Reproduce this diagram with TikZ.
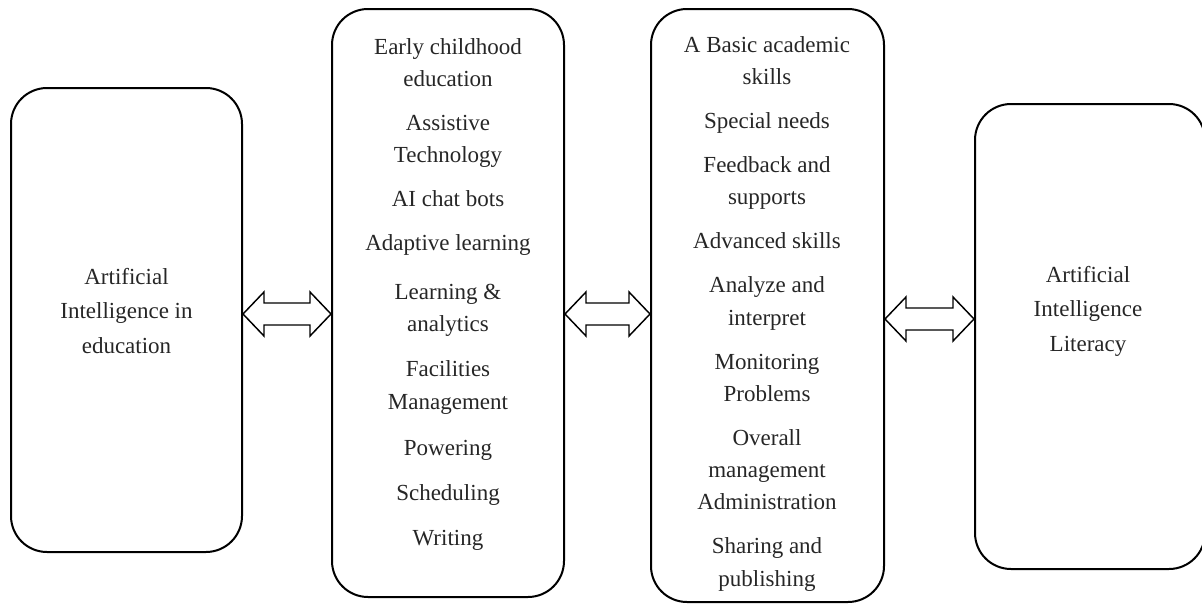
\documentclass[tikz,border=0pt]{standalone}
\usepackage{fontspec}
\setmainfont{Liberation Serif}
\usetikzlibrary{calc}

\begin{document}
\begin{tikzpicture}[x=0.75pt,y=0.75pt,yscale=-1,xscale=1,
    panel/.style={draw, line width=1.5pt, rounded corners=27pt, inner sep=0pt},
    itemtext/.style={align=center, inner sep=0pt, text=black!85, font=\fontsize{17.25}{24.2}\selectfont},
    titletext/.style={itemtext, font=\fontsize{17.25}{25.8}\selectfont},
    dblarrow/.style={draw, line width=1.1pt, fill=white, line join=miter}]
    	%set diagram to 1202 x 603
    	\useasboundingbox (0,0) rectangle (1202,603);
    	
    	\node [panel, minimum width=173.25pt, minimum height=348pt] (aied) at (126.5,320) {};
    	\node [panel, minimum width=174pt, minimum height=441pt] (uses) at (448,303) {};
    	\node [panel, minimum width=174.75pt, minimum height=444.75pt] (skills) at (767.5,305.5) {};
    	\node [panel, minimum width=172.5pt, minimum height=348.75pt] (literacy) at (1090,336.5) {};
    	
    	
    	\node [titletext] (aiedText) at (126.5,311) {Artificial\\Intelligence in\\education};
    	\node [titletext] (literacyText) at (1088,311) {Artificial\\Intelligence\\Literacy};
    	
    	\node [itemtext, anchor=north] (usesList) at (448,38) {Early childhood\\education\\[8.8pt]Assistive\\Technology\\[8.8pt]AI chat bots\\[8.8pt]Adaptive learning\\[12.5pt]Learning \&\\analytics\\[9.5pt]Facilities\\Management\\[10.3pt]Powering\\[9.5pt]Scheduling\\[9.5pt]Writing};
    	\node [itemtext, anchor=north] (skillsList) at (767,36) {A Basic academic\\skills\\[8.8pt]Special needs\\[8.8pt]Feedback and\\supports\\[8.8pt]Advanced skills\\[8.8pt]Analyze and\\interpret\\[8.8pt]Monitoring\\Problems\\[8.8pt]Overall\\management\\Administration\\[8.8pt]Sharing and\\publishing};
    	
    	
    	\coordinate (l1) at (aied.east |- 0,314);
    	\coordinate (r1) at (uses.west |- 0,314);
    	\draw [dblarrow] (l1) -- ++(21,-22) -- ++(0,11) -- ($(r1)+(-21,-11)$) -- ++(0,-11) -- (r1) -- ++(-21,22) -- ++(0,-11) -- ($(l1)+(21,11)$) -- ++(0,11) -- cycle;
    	
    	\coordinate (l2) at (uses.east |- 0,314);
    	\coordinate (r2) at (skills.west |- 0,314);
    	\draw [dblarrow] (l2) -- ++(21,-22) -- ++(0,11) -- ($(r2)+(-21,-11)$) -- ++(0,-11) -- (r2) -- ++(-21,22) -- ++(0,-11) -- ($(l2)+(21,11)$) -- ++(0,11) -- cycle;
    	
    	\coordinate (l3) at (skills.east |- 0,319);
    	\coordinate (r3) at (literacy.west |- 0,319);
    	\draw [dblarrow] (l3) -- ++(21,-22) -- ++(0,11) -- ($(r3)+(-21,-11)$) -- ++(0,-11) -- (r3) -- ++(-21,22) -- ++(0,-11) -- ($(l3)+(21,11)$) -- ++(0,11) -- cycle;
    	
\end{tikzpicture}
\end{document}
